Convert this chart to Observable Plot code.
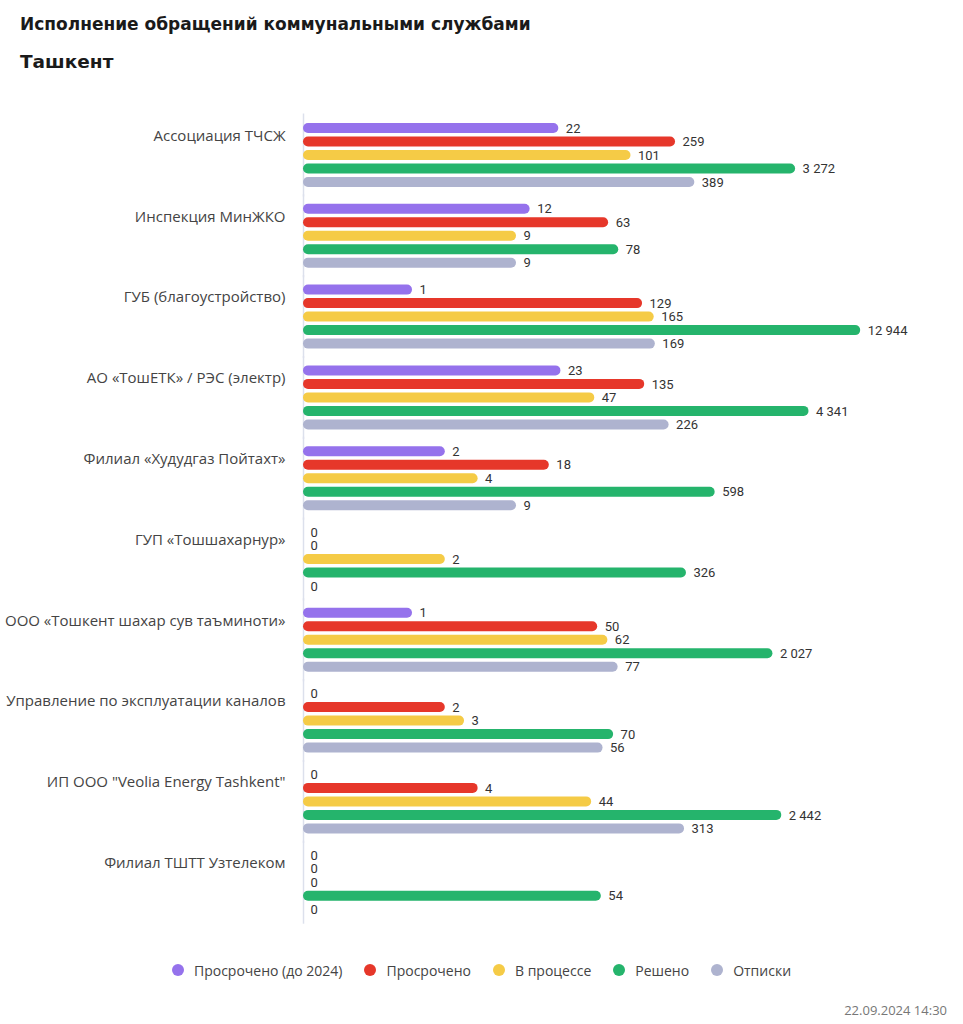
<!DOCTYPE html>
<html><head><meta charset="utf-8">
<script src="https://cdn.jsdelivr.net/npm/d3@7"></script>
<script src="https://cdn.jsdelivr.net/npm/@observablehq/plot@0.6"></script>
<style>
html,body{margin:0;padding:0;background:#fff}
body{width:963px;height:1024px;position:relative;overflow:hidden;font-family:"Open Sans",Roboto,sans-serif;color:#222}
#title{position:absolute;left:20px;top:12px;font-family:"DejaVu Sans",sans-serif;font-size:17px;font-weight:700;line-height:24px;color:#1a1a1a}
#subtitle{position:absolute;left:20px;top:49px;font-family:"DejaVu Sans",sans-serif;font-size:18.5px;font-weight:700;line-height:26px;color:#1a1a1a}
#chart{position:absolute;left:0;top:90px}
#legend{position:absolute;left:0;top:959px;width:963px;height:22px;display:flex;justify-content:center;align-items:center;font-size:14px;color:#444}
#legend .item{display:flex;align-items:center;margin:0 11px}
#legend .dot{width:12px;height:12px;border-radius:50%;margin-right:10px}
#date{position:absolute;right:16px;top:1002px;font-size:13px;color:#777;line-height:16px}
</style></head><body>
<div id="title">Исполнение обращений коммунальными службами</div>
<div id="subtitle">Ташкент</div>
<div id="chart"></div>
<div id="legend"></div>
<div id="date">22.09.2024 14:30</div>
<script>
const categories = [
  "Ассоциация ТЧСЖ",
  "Инспекция МинЖКО",
  "ГУБ (благоустройство)",
  "АО «ТошЕТК» / РЭС (электр)",
  "Филиал «Худудгаз Пойтахт»",
  "ГУП «Тошшахарнур»",
  "ООО «Тошкент шахар сув таъминоти»",
  "Управление по эксплуатации каналов",
  "ИП ООО \"Veolia Energy Tashkent\"",
  "Филиал ТШТТ Узтелеком"
];
const series = ["Просрочено (до 2024)", "Просрочено", "В процессе", "Решено", "Отписки"];
const colors = ["#9572EC", "#E6372A", "#F5CB46", "#25B46C", "#AEB3CF"];

const overdueOld = [22, 12, 1, 23, 2, 0, 1, 0, 0, 0];
const overdue    = [259, 63, 129, 135, 18, 0, 50, 2, 4, 0];
const inProgress = [101, 9, 165, 47, 4, 2, 62, 3, 44, 0];
const resolved   = [3272, 78, 12944, 4341, 598, 326, 2027, 70, 2442, 54];
const replies    = [389, 9, 169, 226, 9, 0, 77, 56, 313, 0];

const seriesValues = [overdueOld, overdue, inProgress, resolved, replies];
const rows = [];
categories.forEach((c, i) => {
  series.forEach((s, j) => rows.push({category: c, series: s, value: seriesValues[j][i]}));
});

const xMin = 0.1, xMax = 1e5;
const fmt = v => d3.format(",")(v).replace(/,/g, " ");

const chart = Plot.plot({
  width: 963, height: 850,
  marginLeft: 303, marginRight: 6, marginTop: 29.5, marginBottom: 22.3,
  style: {fontFamily: "Roboto, 'Noto Sans', sans-serif", fontSize: "13px", color: "#333", background: "transparent"},
  x: {type: "log", domain: [xMin, xMax], axis: null},
  y: {domain: series, padding: 0.26, round: false, axis: null},
  fy: {domain: categories, padding: 0.121, round: false, axis: null},
  color: {domain: series, range: colors},
  marks: [
    Plot.ruleX([xMin], {stroke: "#DCE0EC", strokeWidth: 1.5, insetTop: -6, insetBottom: -6}),
    Plot.barX(rows, {x1: xMin, x2: "value", y: "series", fy: "category", fill: "series", rx: 5}),
    Plot.text(rows, {x: d => Math.max(d.value, xMin), y: "series", fy: "category", text: d => fmt(d.value),
      textAnchor: "start", dx: 7, fill: "#333", fontSize: 13}),
    Plot.text(categories, {fy: d => d, text: d => d, frameAnchor: "top-left", textAnchor: "end",
      lineAnchor: "middle", dx: -18, dy: 16, fontSize: 15, fill: "#444", fontFamily: "'Open Sans', sans-serif"})
  ]
});
document.getElementById("chart").appendChild(chart);

const colorScale = chart.scale("color");
const legend = document.getElementById("legend");
series.forEach((s, i) => {
  const item = document.createElement("div");
  item.className = "item";
  const dot = document.createElement("span");
  dot.className = "dot";
  dot.style.background = colorScale.range[i];
  const label = document.createElement("span");
  label.textContent = s;
  item.appendChild(dot); item.appendChild(label);
  legend.appendChild(item);
});
</script>
</body></html>
